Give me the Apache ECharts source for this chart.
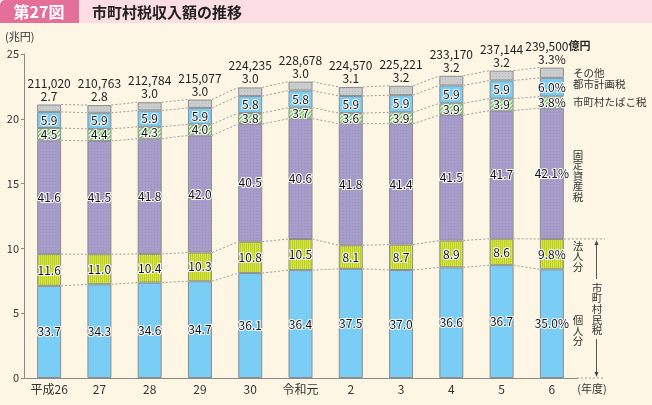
<!DOCTYPE html>
<html>
<head>
<meta charset="utf-8">
<script src="https://cdn.jsdelivr.net/npm/echarts@6/dist/echarts.min.js"></script>
<style>
html, body { margin: 0; padding: 0; background: #fdf6e4; }
#chart { width: 652px; height: 405px; }
</style>
</head>
<body>
<div id="chart"></div>
<script>
// 年度
var years = ['平成26', '27', '28', '29', '30', '令和元', '2', '3', '4', '5', '6'];
// 市町村税収入額（億円）
var totals = [211020, 210763, 212784, 215077, 224235, 228678, 224570, 225221, 233170, 237144, 239500];
// 構成比（%）
var kojin = [33.7, 34.3, 34.6, 34.7, 36.1, 36.4, 37.5, 37.0, 36.6, 36.7, 35.0];
var houjin = [11.6, 11.0, 10.4, 10.3, 10.8, 10.5, 8.1, 8.7, 8.9, 8.6, 9.8];
var kotei = [41.6, 41.5, 41.8, 42.0, 40.5, 40.6, 41.8, 41.4, 41.5, 41.7, 42.1];
var tabako = [4.5, 4.4, 4.3, 4.0, 3.8, 3.7, 3.6, 3.9, 3.9, 3.9, 3.8];
var toshi = [5.9, 5.9, 5.9, 5.9, 5.8, 5.8, 5.9, 5.9, 5.9, 5.9, 6.0];
var sonota = [2.7, 2.8, 3.0, 3.0, 3.0, 3.0, 3.1, 3.2, 3.2, 3.2, 3.3];
var yTicks = [0, 5, 10, 15, 20, 25];

var FONT = '"Noto Sans CJK JP", "Noto Sans", sans-serif';
var BAR_W = 24;

// 小さいキャンバスで模様を作る
function makePattern(w, h, base, draw) {
    var c = document.createElement('canvas');
    c.width = w;
    c.height = h;
    var ctx = c.getContext('2d');
    ctx.fillStyle = base;
    ctx.fillRect(0, 0, w, h);
    if (draw) draw(ctx);
    return { image: c, repeat: 'repeat' };
}
var stripeV = makePattern(2, 2, '#d6e64a', function (ctx) {
    ctx.fillStyle = '#bdd025';
    ctx.fillRect(0, 0, 1, 2);
});
var hatch = makePattern(4, 4, '#7fcc78', function (ctx) {
    ctx.fillStyle = '#e6f5dc';
    for (var k = 0; k < 4; k++) ctx.fillRect(3 - k, k, 1, 1);
    ctx.fillStyle = '#c9ebbf';
    for (var k2 = 0; k2 < 4; k2++) ctx.fillRect((4 - k2) % 4, k2, 1, 1);
});
var dotPurple = makePattern(3, 3, '#a69dca', function (ctx) {
    ctx.fillStyle = '#9b92c2';
    ctx.fillRect(1, 1, 1, 1);
});
var dotGrey = makePattern(3, 3, '#cbcecf', function (ctx) {
    ctx.fillStyle = '#b9bdbe';
    ctx.fillRect(1, 1, 1, 1);
});

// 兆円に換算
function toCho(share) {
    return share.map(function (s, i) { return totals[i] / 10000 * s / 100; });
}
var layers = [
    { name: '個人分', share: kojin, color: '#7acdf4' },
    { name: '法人分', share: houjin, color: stripeV },
    { name: '固定資産税', share: kotei, color: dotPurple },
    { name: '市町村たばこ税', share: tabako, color: hatch },
    { name: '都市計画税', share: toshi, color: '#7acdf4' },
    { name: 'その他', share: sonota, color: dotGrey }
];

// 各境界の累積値
var cum = [];
var run = years.map(function () { return 0; });
layers.forEach(function (l) {
    var v = toCho(l.share);
    run = run.map(function (r, i) { return r + v[i]; });
    cum.push(run.slice());
});
var linkData = [];
cum.forEach(function (c) {
    for (var i = 0; i < c.length - 1; i++) linkData.push([i, c[i], c[i + 1]]);
});

var series = layers.map(function (l, li) {
    var isTop = li === layers.length - 1;
    return {
        name: l.name,
        type: 'bar',
        stack: 'all',
        barWidth: BAR_W,
        z: 3,
        data: toCho(l.share),
        itemStyle: { color: l.color, borderColor: '#8e8e8e', borderWidth: 1 },
        label: isTop ? {
            show: true,
            position: 'top',
            distance: 2,
            fontFamily: FONT,
            fontSize: 12,
            color: '#222',
            lineHeight: 13,
            formatter: function (p) {
                var t = totals[p.dataIndex].toLocaleString('en-US');
                if (p.dataIndex === years.length - 1) {
                    return '{pad|}' + t + '{u|億円}\n' + sonota[p.dataIndex].toFixed(1) + '%';
                }
                return t + '\n' + sonota[p.dataIndex].toFixed(1);
            },
            rich: {
                pad: { width: 12 },
                u: { fontFamily: FONT, fontSize: 11, fontWeight: 'bold', color: '#222' }
            }
        } : {
            show: true,
            position: 'inside',
            fontFamily: FONT,
            fontSize: 12,
            color: '#111',
            textBorderColor: '#fff',
            textBorderWidth: 2,
            formatter: function (p) {
                var s = l.share[p.dataIndex].toFixed(1);
                return p.dataIndex === years.length - 1 ? s + '%' : s;
            }
        }
    };
});

// バー間の点線
series.push({
    type: 'custom',
    z: 2,
    silent: true,
    encode: { x: 0, y: [1, 2] },
    data: linkData,
    renderItem: function (params, api) {
        var a = api.coord([api.value(0), api.value(1)]);
        var b = api.coord([api.value(0) + 1, api.value(2)]);
        return {
            type: 'line',
            shape: { x1: a[0] + BAR_W / 2, y1: a[1], x2: b[0] - BAR_W / 2, y2: b[1] },
            style: { stroke: '#9c9c9c', lineWidth: 1, lineDash: [2, 2] }
        };
    }
});

var chart = echarts.init(document.getElementById('chart'));
var option = {
    backgroundColor: '#fdf6e4',
    animation: false,
    grid: { left: 24, right: 75, top: 54, bottom: 27 },
    xAxis: {
        type: 'category',
        data: years,
        axisLine: { lineStyle: { color: '#8a8a8a' } },
        axisTick: { inside: true, length: 3, lineStyle: { color: '#8a8a8a' } },
        axisLabel: { color: '#333', fontFamily: FONT, fontSize: 12, margin: 5 }
    },
    yAxis: {
        type: 'value',
        min: yTicks[0],
        max: yTicks[yTicks.length - 1],
        interval: 5,
        splitLine: { show: false },
        axisLine: { show: true, lineStyle: { color: '#8a8a8a' } },
        axisTick: { show: true, length: 3, lineStyle: { color: '#8a8a8a' } },
        axisLabel: { color: '#333', fontFamily: FONT, fontSize: 11, margin: 5 }
    },
    series: series
};
chart.setOption(option);

// 右側の注記
var last = years.length - 1;
function py(v) { return chart.convertToPixel({ gridIndex: 0 }, [last, v])[1]; }
var barRight = chart.convertToPixel({ gridIndex: 0 }, [last, 0])[0] + BAR_W / 2;
var gridRight = 652 - 75;
var yHoujinTop = py(cum[1][last]);
var yZero = py(0);
function mid(k) { return (py(k === 0 ? 0 : cum[k - 1][last]) + py(cum[k][last])) / 2; }
function vText(s) { return s.split('').join('\n'); }
var small = { fontFamily: FONT, fontSize: 10.5, fill: '#333' };
var dotted = { stroke: '#9c9c9c', lineWidth: 1, lineDash: [2, 2] };

chart.setOption({
    graphic: [
        // タイトル
        { type: 'rect', left: 79, top: 0, shape: { width: 573, height: 23 }, style: { fill: '#fbdde3' } },
        { type: 'rect', left: 0, top: 0, shape: { width: 79, height: 23, r: [5, 0, 0, 0] }, style: { fill: '#e4709a' } },
        { type: 'text', x: 39, y: 12, style: { text: '第27図', fill: '#fff', font: 'bold 16px ' + FONT, align: 'center', verticalAlign: 'middle' } },
        { type: 'text', x: 92, y: 12, style: { text: '市町村税収入額の推移', fill: '#222', font: 'bold 15px ' + FONT, verticalAlign: 'middle' } },
        { type: 'text', x: 5, y: 37, style: { text: '(兆円)', fill: '#333', font: '11px ' + FONT, verticalAlign: 'middle' } },
        { type: 'text', x: 592, y: 389, style: { text: '(年度)', fill: '#333', font: '11px ' + FONT, align: 'center', verticalAlign: 'middle' } },
        // 凡例ラベル
        { type: 'text', x: 573, y: mid(5), style: Object.assign({ text: 'その他', verticalAlign: 'middle' }, small) },
        { type: 'text', x: 573, y: mid(4) - 3, style: Object.assign({ text: '都市計画税', verticalAlign: 'middle' }, small) },
        { type: 'text', x: 573, y: mid(3), style: Object.assign({ text: '市町村たばこ税', verticalAlign: 'middle' }, small) },
        { type: 'text', x: 578, y: mid(2) + 2, style: Object.assign({ text: vText('固定資産税'), align: 'center', verticalAlign: 'middle', lineHeight: 10.5 }, small) },
        { type: 'text', x: 578, y: mid(1) + 2, style: Object.assign({ text: vText('法人分'), align: 'center', verticalAlign: 'middle', lineHeight: 10.5 }, small) },
        { type: 'text', x: 578, y: mid(0) + 7, style: Object.assign({ text: vText('個人分'), align: 'center', verticalAlign: 'middle', lineHeight: 10.5 }, small) },
        // 市町村民税の括り
        { type: 'line', shape: { x1: barRight, y1: yHoujinTop, x2: 605, y2: yHoujinTop }, style: dotted },
        { type: 'line', shape: { x1: gridRight, y1: yZero, x2: 605, y2: yZero }, style: dotted },
        { type: 'line', shape: { x1: 596.5, y1: yHoujinTop + 3, x2: 596.5, y2: 279 }, style: { stroke: '#555', lineWidth: 1 } },
        { type: 'line', shape: { x1: 596.5, y1: 339, x2: 596.5, y2: yZero - 3 }, style: { stroke: '#555', lineWidth: 1 } },
        { type: 'polygon', shape: { points: [[596.5, yHoujinTop + 1], [594.5, yHoujinTop + 6], [598.5, yHoujinTop + 6]] }, style: { fill: '#444' } },
        { type: 'polygon', shape: { points: [[596.5, yZero - 1], [594.5, yZero - 6], [598.5, yZero - 6]] }, style: { fill: '#444' } },
        { type: 'text', x: 597, y: 309, style: Object.assign({ text: vText('市町村民税'), align: 'center', verticalAlign: 'middle', lineHeight: 10.6 }, small) }
    ]
});
</script>
</body>
</html>
